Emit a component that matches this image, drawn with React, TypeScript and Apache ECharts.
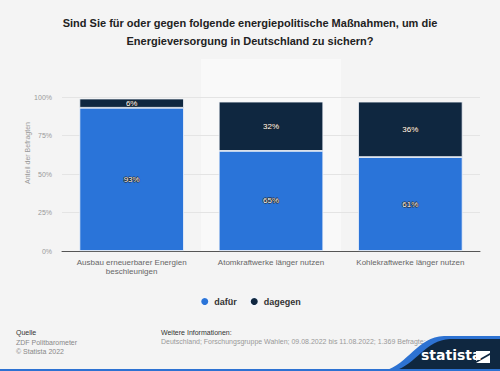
import React, { useEffect, useRef } from "react";
import * as echarts from "echarts";

const categories = [
  "Ausbau erneuerbarer Energien\nbeschleunigen",
  "Atomkraftwerke länger nutzen",
  "Kohlekraftwerke länger nutzen",
];
const dafuer = [93, 65, 61];
const dagegen = [6, 32, 36];
const yTicks = [0, 25, 50, 75, 100];

const FONT = "Liberation Sans, Arial, sans-serif";

echarts.graphic.registerShape(
  "waveBlue",
  echarts.graphic.extendPath("M 0 35 C 25 28 33 1 60 0 L 120 0 L 120 35 Z", {})
);
echarts.graphic.registerShape(
  "waveNavy",
  echarts.graphic.extendPath("M 0 35 C 23 28 31 4 56 3 L 120 3 L 120 35 Z", {})
);

export default function App() {
  const ref = useRef<HTMLDivElement>(null);
  useEffect(() => {
    const chart = echarts.init(ref.current!, null, { renderer: "svg" });
    const labelStyle = {
      show: true,
      position: "inside",
      formatter: "{c}%",
      color: "#ffffff",
      fontSize: 8,
      fontFamily: FONT,
      textBorderColor: "#222",
      textBorderWidth: 1.2,
    };
    chart.setOption({
      animation: false,
      backgroundColor: "#f4f4f4",
      textStyle: { fontFamily: FONT },
      title: {
        text: "Sind Sie für oder gegen folgende energiepolitische Maßnahmen, um die\nEnergieversorgung in Deutschland zu sichern?",
        left: "center",
        top: 9,
        textStyle: {
          fontSize: 11,
          fontWeight: "bold",
          color: "#222",
          lineHeight: 18,
          fontFamily: FONT,
        },
      },
      legend: {
        bottom: 59,
        left: "center",
        icon: "circle",
        itemWidth: 9,
        itemHeight: 9,
        itemGap: 12,
        textStyle: { fontSize: 9, fontWeight: "bold", color: "#333", fontFamily: FONT },
        data: ["dafür", "dagegen"],
      },
      grid: { left: 62, right: 20, top: 97, bottom: 120 },
      xAxis: {
        type: "category",
        data: categories,
        axisLine: { lineStyle: { color: "#555", width: 1 } },
        axisTick: { show: false },
        axisLabel: { interval: 0, fontSize: 8, color: "#666", lineHeight: 9, margin: 7, fontFamily: FONT },
      },
      yAxis: {
        type: "value",
        min: yTicks[0],
        max: yTicks[yTicks.length - 1],
        interval: 25,
        axisLabel: { formatter: "{value}%", fontSize: 7, color: "#999", margin: 10, fontFamily: FONT },
        splitLine: { lineStyle: { color: "#e4e4e4", width: 1 } },
        axisLine: { show: false },
        axisTick: { show: false },
      },
      series: [
        {
          name: "dafür",
          type: "bar",
          stack: "a",
          data: dafuer,
          barCategoryGap: "25%",
          itemStyle: { color: "#2a74d9", borderColor: "#f2f5fa", borderWidth: 0.8 },
          label: labelStyle,
        },
        {
          name: "dagegen",
          type: "bar",
          stack: "a",
          data: dagegen,
          itemStyle: { color: "#0f2740", borderColor: "#f2f5fa", borderWidth: 0.8 },
          label: labelStyle,
        },
      ],
      graphic: [
        {
          type: "rect",
          z: -10,
          silent: true,
          shape: { x: 201, y: 59, width: 140, height: 192 },
          style: { fill: "#f9f9f9" },
        },
        {
          type: "text",
          x: 27,
          y: 153,
          rotation: Math.PI / 2,
          style: {
            text: "Anteil der Befragten",
            fontSize: 7,
            fill: "#999",
            align: "center",
            verticalAlign: "middle",
            fontFamily: FONT,
          },
        },
        {
          type: "text",
          x: 16,
          y: 329,
          style: { text: "Quelle", fontSize: 7, fill: "#333", fontFamily: FONT },
        },
        {
          type: "text",
          x: 16,
          y: 338,
          style: { text: "ZDF Politbarometer\n© Statista 2022", fontSize: 7, fill: "#888", lineHeight: 9, fontFamily: FONT },
        },
        {
          type: "text",
          x: 161,
          y: 329,
          style: { text: "Weitere Informationen:", fontSize: 7, fill: "#333", fontFamily: FONT },
        },
        {
          type: "text",
          x: 161,
          y: 338,
          style: {
            text: "Deutschland; Forschungsgruppe Wahlen; 09.08.2022 bis 11.08.2022; 1.369 Befragte; ab 18 Jahre",
            fontSize: 7,
            fill: "#999",
            fontFamily: FONT,
          },
        },
        { type: "waveBlue", x: 384, y: 336, style: { fill: "#2d72d2" } },
        { type: "waveNavy", x: 394, y: 336, style: { fill: "#0f2740" } },
        {
          type: "text",
          x: 421,
          y: 348,
          style: { text: "statista", fontSize: 14, fontWeight: "bold", fill: "#ffffff", fontFamily: "DejaVu Sans, sans-serif" },
        },
        {
          type: "polygon",
          shape: { points: [[476, 351], [490, 351], [490, 353], [476, 361]] },
          style: { fill: "#ffffff" },
        },
        {
          type: "polygon",
          shape: { points: [[476, 363], [490, 355], [490, 363]] },
          style: { fill: "#ffffff" },
        },
        {
          type: "rect",
          shape: { x: 0, y: 369, width: 500, height: 2 },
          style: { fill: "#2d72d2" },
        },
      ],
    });
    return () => chart.dispose();
  }, []);
  return <div ref={ref} style={{ width: 500, height: 371, position: "absolute", left: 0, top: 0 }} />;
}
